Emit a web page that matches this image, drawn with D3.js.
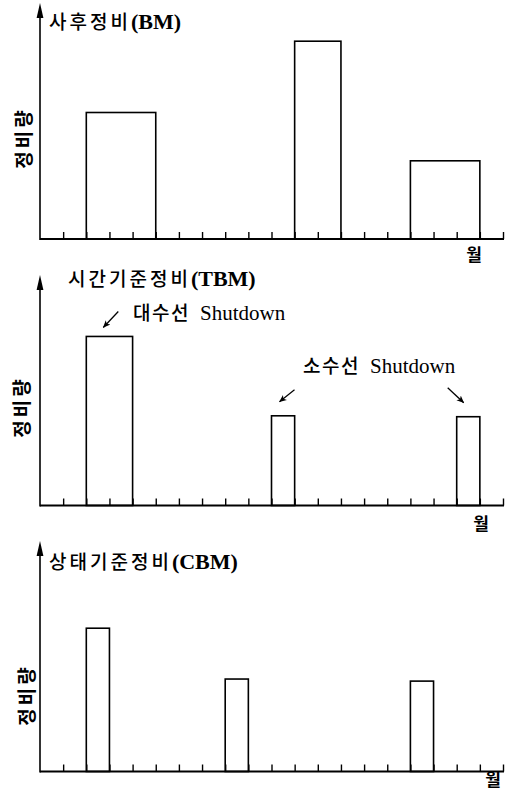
<!DOCTYPE html>
<html>
<head>
<meta charset="utf-8">
<script src="https://cdn.jsdelivr.net/npm/d3@7"></script>
<style>
  body { margin: 0; background: #fff; }
  .kr { font-family: "Noto Sans CJK KR", sans-serif; }
  .lat { font-family: "Liberation Serif", "Times New Roman", serif; }
</style>
</head>
<body>
<svg id="chart" width="507" height="792"></svg>
<script>
// months on the x axis (0 = origin), ticks at every month
const monthTicks = d3.range(1, 21);

// bars: start month, end month, maintenance amount (0-100)
const bmStart = [2, 11, 16];
const bmEnd = [5, 13, 19];
const bmValue = [55, 86, 34];

const tbmStart = [2, 10, 18];
const tbmEnd = [4, 11, 19];
const tbmValue = [73.5, 39, 38.6];

const cbmStart = [2, 8, 16];
const cbmEnd = [3, 9, 17];
const cbmValue = [62.3, 40.2, 39.3];

const titles = ["사후정비", "시간기준정비", "상태기준정비"];
const codes = ["(BM)", "(TBM)", "(CBM)"];
const yLabel = "정비량";
const xLabel = "월";

function bars(start, end, value) {
  return start.map((s, i) => ({ start: s, end: end[i], value: value[i] }));
}

const panels = [
  { bars: bars(bmStart, bmEnd, bmValue), base: 239, top: 3, titleX: 49, titleY: 29, unitX: 474, unitY: 261, labelX: 24, labelY: 138 },
  { bars: bars(tbmStart, tbmEnd, tbmValue), base: 505.5, top: 275, titleX: 68, titleY: 286, unitX: 481, unitY: 530, labelX: 22, labelY: 407 },
  { bars: bars(cbmStart, cbmEnd, cbmValue), base: 771.5, top: 541, titleX: 49, titleY: 569, unitX: 493, unitY: 786, labelX: 27, labelY: 695 },
];

const svg = d3.select("#chart");

const defs = svg.append("defs");
defs.append("marker")
  .attr("id", "noteHead")
  .attr("markerUnits", "userSpaceOnUse")
  .attr("markerWidth", 8).attr("markerHeight", 8)
  .attr("viewBox", "0 0 8 8")
  .attr("refX", 7).attr("refY", 4)
  .attr("orient", "auto")
  .append("path")
  .attr("d", "M0,0.8 L7.5,4 L0,7.2 L2,4 Z")
  .attr("fill", "black");

const x = d3.scaleLinear().domain([0, 20]).range([40, 503]);

panels.forEach(function (p, i) {
  const y = d3.scaleLinear().domain([0, 100]).range([p.base, p.base - 230]);
  const g = svg.append("g");

  // bars (outline only)
  g.selectAll(".bar")
    .data(p.bars)
    .enter()
    .append("rect")
    .attr("class", "bar")
    .attr("x", (d) => x(d.start))
    .attr("y", (d) => y(d.value))
    .attr("width", (d) => x(d.end) - x(d.start))
    .attr("height", (d) => y(0) - y(d.value))
    .attr("fill", "none")
    .attr("stroke", "black")
    .attr("stroke-width", 1.6);

  // x axis with short upward ticks
  const xAxis = g.append("g")
    .attr("transform", "translate(0," + p.base + ")")
    .call(d3.axisBottom(x).tickValues(monthTicks).tickSize(-7).tickSizeOuter(0).tickFormat(""));
  xAxis.select(".domain").attr("stroke-width", 2).attr("d", "M" + x(0) + ",0H" + (x(20) + 1));
  xAxis.selectAll(".tick line").attr("stroke-width", 1.4);

  // y axis with arrowhead
  const ax = x(0);
  g.append("line")
    .attr("x1", ax).attr("x2", ax)
    .attr("y1", y(0) + 1).attr("y2", p.top + 6)
    .attr("stroke", "black")
    .attr("stroke-width", 1.6);
  g.append("path")
    .attr("d", "M" + ax + "," + p.top + " L" + (ax + 3.4) + "," + (p.top + 15) +
      " L" + (ax - 3.4) + "," + (p.top + 15) + " Z")
    .attr("fill", "black");

  // title
  const t = g.append("text")
    .attr("x", p.titleX).attr("y", p.titleY);
  t.append("tspan").attr("class", "kr")
    .style("font-size", "19px").style("font-weight", 500)
    .attr("letter-spacing", 3)
    .text(titles[i]);
  t.append("tspan").attr("class", "lat")
    .style("font-size", "22px").style("font-weight", "bold")
    .text(codes[i]);

  // y label
  g.append("text")
    .attr("class", "kr")
    .attr("transform", "translate(" + p.labelX + "," + p.labelY + ") rotate(-90)")
    .attr("text-anchor", "middle")
    .attr("dy", "0.36em")
    .attr("letter-spacing", 3)
    .style("font-size", "19px").style("font-weight", "bold")
    .text(yLabel);

  // x unit
  g.append("text")
    .attr("class", "kr")
    .attr("x", p.unitX).attr("y", p.unitY)
    .attr("text-anchor", "middle")
    .style("font-size", "17px").style("font-weight", "bold")
    .text(xLabel);

  p.x = x; p.y = y; p.g = g;
});

// annotations on the TBM panel
const tbm = panels[1];
const notes = [
  { text: "대수선", latin: "Shutdown", x: 133, y: 320 },
  { text: "소수선", latin: "Shutdown", x: 303, y: 373 },
];
notes.forEach(function (n) {
  const t = tbm.g.append("text").attr("x", n.x).attr("y", n.y);
  t.append("tspan").attr("class", "kr")
    .style("font-size", "19px").style("font-weight", 500)
    .attr("letter-spacing", 1.5).text(n.text);
  t.append("tspan").attr("class", "lat")
    .attr("dx", 10).style("font-size", "21px").text(n.latin);
});

// arrows pointing to bars: bar index, offset from bar top-left, direction
const pointers = [
  { bar: 0, ox: 17, oy: -9, dx: 15, dy: -16 },
  { bar: 1, ox: 8, oy: -14, dx: 15, dy: -12 },
  { bar: 2, ox: 7, oy: -14, dx: -16, dy: -15 },
];
tbm.g.selectAll(".pointer")
  .data(pointers)
  .enter()
  .append("line")
  .attr("class", "pointer")
  .attr("x2", (d) => tbm.x(tbm.bars[d.bar].start) + d.ox)
  .attr("y2", (d) => tbm.y(tbm.bars[d.bar].value) + d.oy)
  .attr("x1", (d) => tbm.x(tbm.bars[d.bar].start) + d.ox + d.dx)
  .attr("y1", (d) => tbm.y(tbm.bars[d.bar].value) + d.oy + d.dy)
  .attr("stroke", "black")
  .attr("stroke-width", 1.3)
  .attr("marker-end", "url(#noteHead)");
</script>
</body>
</html>
